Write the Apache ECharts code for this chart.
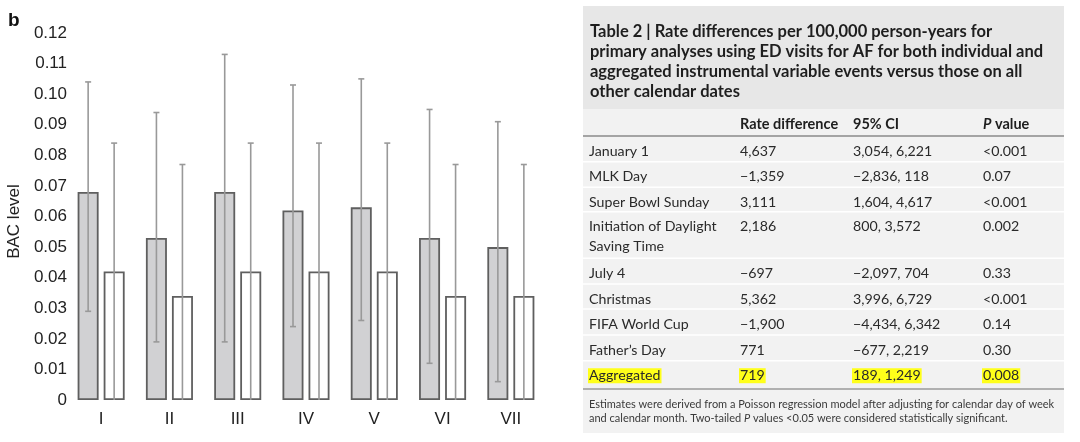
<!DOCTYPE html>
<html>
<head>
<meta charset="utf-8">
<script src="https://cdn.jsdelivr.net/npm/echarts@6/dist/echarts.min.js"></script>
<style>html,body{margin:0;padding:0;background:#fff}#c{width:1080px;height:442px}</style>
</head>
<body>
<div id="c"></div>
<script>
// ---- chart data ----
const categories = ['I', 'II', 'III', 'IV', 'V', 'VI', 'VII'];
const grayMean  = [0.068, 0.053, 0.068, 0.062, 0.063, 0.053, 0.050];
const grayUpper = [0.104, 0.094, 0.113, 0.103, 0.105, 0.095, 0.091];
const grayLower = [0.029, 0.019, 0.019, 0.024, 0.026, 0.012, 0.006];
const whiteMean  = [0.042, 0.034, 0.042, 0.042, 0.042, 0.034, 0.034];
const whiteUpper = [0.084, 0.077, 0.084, 0.084, 0.084, 0.077, 0.077];
const whiteLower = [0, 0, 0, 0, 0, 0, 0];
const yTicks = [0, 0.01, 0.02, 0.03, 0.04, 0.05, 0.06, 0.07, 0.08, 0.09, 0.10, 0.11, 0.12];

// ---- table data ----
const tableTitle = [
  'Table 2 | Rate differences per 100,000 person-years for',
  'primary analyses using ED visits for AF for both individual and',
  'aggregated instrumental variable events versus those on all',
  'other calendar dates'
];
const tableHeaders = ['', 'Rate difference', '95% CI', '{i|P} value'];
const rowLabels = ['January 1', 'MLK Day', 'Super Bowl Sunday', 'Initiation of Daylight\nSaving Time', 'July 4', 'Christmas', 'FIFA World Cup', 'Father\u2019s Day', 'Aggregated'];
const rateDiff = ['4,637', '\u22121,359', '3,111', '2,186', '\u2212697', '5,362', '\u22121,900', '771', '719'];
const ciValues = ['3,054, 6,221', '\u22122,836, 118', '1,604, 4,617', '800, 3,572', '\u22122,097, 704', '3,996, 6,729', '\u22124,434, 6,342', '\u2212677, 2,219', '189, 1,249'];
const pValues = ['<0.001', '0.07', '<0.001', '0.002', '0.33', '<0.001', '0.14', '0.30', '0.008'];
const highlightRow = 'Aggregated';
const footnote = [
  'Estimates were derived from a Poisson regression model after adjusting for calendar day of week',
  'and calendar month. Two-tailed {i|P} values <0.05 were considered statistically significant.'
];

// ---- layout ----
const barW = 21, barOffset = 13;
const tblL = 583, tblR = 1064, tblT = 6, tblB = 433;
const colX = [589, 740, 853, 983];
const rowHeights = [25.7, 25.6, 24.4, 46.6, 25.7, 25.0, 26.0, 25.7, 28.3];
const headerLineY = 136;

const g = [];
g.push({type: 'text', left: 8, top: 11, style: {text: 'b', font: 'bold 19px "Liberation Sans", Arial', fill: '#111'}});
g.push({type: 'rect', shape: {x: tblL, y: tblT, width: tblR - tblL, height: tblB - tblT}, style: {fill: '#f2f2f2'}, silent: true});
g.push({type: 'rect', shape: {x: tblL, y: tblT, width: tblR - tblL, height: 109 - tblT}, style: {fill: '#e7e7e7'}, silent: true});
tableTitle.forEach((t, i) => {
  g.push({type: 'text', x: 590, y: 31.5 + i * 20, style: {text: t, font: 'bold 16.5px Lato', fill: '#1e1e1e', verticalAlign: 'middle'}});
});
tableHeaders.forEach((t, j) => {
  if (!t) return;
  g.push({type: 'text', x: colX[j], y: 124, style: {text: t, font: 'bold 14.5px Lato', fill: '#1e1e1e', verticalAlign: 'middle', rich: {i: {font: 'italic bold 14.5px Lato', fill: '#1e1e1e'}}}});
});
g.push({type: 'line', shape: {x1: tblL, y1: headerLineY, x2: tblR, y2: headerLineY}, style: {stroke: '#8a8a8a', lineWidth: 1.5}});
let yy = headerLineY;
rowLabels.forEach((lab, i) => {
  const top = yy;
  const hl = lab === highlightRow;
  const cells = [lab, rateDiff[i], ciValues[i], pValues[i]];
  cells.forEach((t, j) => {
    const lines = t.split('\n');
    lines.forEach((ln, k) => {
      const st = {text: ln, font: '14.2px Lato', fill: '#2a2a2a', verticalAlign: 'middle'};
      if (hl) { st.backgroundColor = '#ffff1a'; st.padding = [1, 1, 0, 1]; }
      g.push({type: 'text', x: colX[j] - (hl ? 1 : 0), y: top + 15 + k * 19.5, style: st});
    });
  });
  yy += rowHeights[i];
  if (i < rowLabels.length - 1) {
    g.push({type: 'line', shape: {x1: tblL, y1: yy, x2: tblR, y2: yy}, style: {stroke: '#ffffff', lineWidth: 1.5}});
  } else {
    g.push({type: 'line', shape: {x1: tblL, y1: yy, x2: tblR, y2: yy}, style: {stroke: '#9a9a9a', lineWidth: 1.5}});
  }
});
footnote.forEach((t, i) => {
  g.push({type: 'text', x: 589, y: 404 + i * 14.5, style: {text: t, font: '11px Lato', fill: '#3a3a3a', verticalAlign: 'middle', rich: {i: {font: 'italic 11px Lato', fill: '#3a3a3a'}}}});
});

function errorSeries(upper, lower, offset) {
  return {
    type: 'custom',
    z: 5,
    data: categories.map((c, i) => [i, lower[i], upper[i]]),
    encode: {x: 0, y: [1, 2]},
    renderItem: function (params, api) {
      const i = api.value(0);
      const lo = api.coord([i, api.value(1)]);
      const hi = api.coord([i, api.value(2)]);
      const x = lo[0] + offset;
      const cap = 3;
      const st = {stroke: '#999999', lineWidth: 1.6};
      const children = [
        {type: 'line', shape: {x1: x, y1: lo[1], x2: x, y2: hi[1]}, style: st},
        {type: 'line', shape: {x1: x - cap, y1: hi[1], x2: x + cap, y2: hi[1]}, style: st}
      ];
      if (api.value(1) > 0) children.push({type: 'line', shape: {x1: x - cap, y1: lo[1], x2: x + cap, y2: lo[1]}, style: st});
      return {type: 'group', children: children};
    }
  };
}

const chart = echarts.init(document.getElementById('c'), null, {renderer: 'canvas'});
chart.setOption({
  animation: false,
  backgroundColor: '#ffffff',
  grid: {left: 67, right: 535, top: 33, bottom: 42, containLabel: false},
  xAxis: {
    type: 'category', data: categories,
    axisLine: {show: false}, axisTick: {show: false},
    axisLabel: {margin: 11, fontSize: 17, color: '#222', fontFamily: '"Liberation Sans", Arial'}
  },
  yAxis: {
    type: 'value', min: 0, max: 0.12, interval: 0.01,
    name: 'BAC level', nameLocation: 'middle', nameGap: 44,
    nameTextStyle: {fontSize: 17, color: '#222', fontFamily: '"Liberation Sans", Arial', padding: [0, 10, 0, 0]},
    axisLine: {show: false}, axisTick: {show: false}, splitLine: {show: false},
    axisLabel: {
      margin: 0, fontSize: 17, color: '#222', fontFamily: '"Liberation Sans", Arial',
      formatter: v => {
        const m = yTicks.find(t => Math.abs(t - v) < 1e-9);
        return m === 0 ? '0' : (m !== undefined ? m.toFixed(2) : '');
      }
    }
  },
  series: [
    {type: 'bar', data: grayMean, barWidth: barW, barGap: '24%', itemStyle: {color: '#d1d1d3', borderColor: '#5f5f5f', borderWidth: 1.8}},
    {type: 'bar', data: whiteMean, barWidth: barW, itemStyle: {color: '#ffffff', borderColor: '#5f5f5f', borderWidth: 1.8}},
    errorSeries(grayUpper, grayLower, -barOffset),
    errorSeries(whiteUpper, whiteLower, barOffset)
  ],
  graphic: g
});
</script>
</body>
</html>
